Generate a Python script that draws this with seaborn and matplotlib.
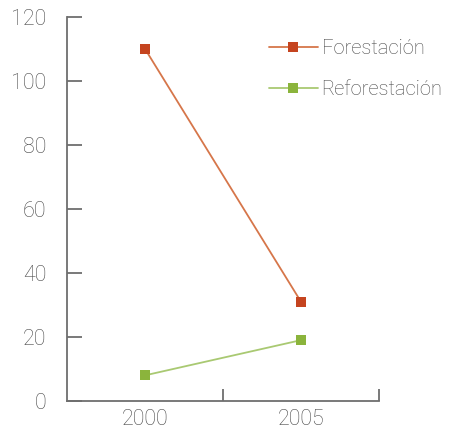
import matplotlib
matplotlib.use("Agg")
import matplotlib.pyplot as plt
import seaborn as sns
import pandas as pd

years = ["2000", "2005"]
forestacion = [110, 31]
reforestacion = [8, 19]
series_names = ["Forestación", "Reforestación"]

sns.set_style("white")
plt.rcParams["font.family"] = ["Roboto", "DejaVu Sans"]
plt.rcParams["font.weight"] = "light"

df = pd.DataFrame({
    "pos": [0, 1, 0, 1],
    "valor": forestacion + reforestacion,
    "serie": [series_names[0]] * 2 + [series_names[1]] * 2,
})

line_colors = {"Forestación": "#d6764a", "Reforestación": "#a9c972"}
marker_colors = {"Forestación": "#c5441f", "Reforestación": "#8bb43c"}

fig = plt.figure(figsize=(4.67, 4.33), dpi=100)
ax = fig.add_axes([0.1435, 0.074, 0.668, 0.887])

sns.lineplot(data=df, x="pos", y="valor", hue="serie", style="serie",
             palette=line_colors, markers={n: "s" for n in series_names},
             dashes=False, linewidth=1.3, markersize=6.5, markeredgewidth=0,
             ax=ax, legend=False)
# marker faces a bit darker than the lines
for line, name in zip(ax.get_lines(), series_names):
    line.set_markerfacecolor(marker_colors[name])
    line.set_label(name)

axis_gray = "#6e6e6e"
text_gray = "#4a4a4a"
ax.set_xlim(-0.5, 1.5)
ax.set_ylim(0, 120)
ax.set_yticks(range(0, 121, 20))
ax.set_xticks([0, 1])
ax.set_xticklabels(years)
ax.set_xticks([0.5, 1.5], minor=True)
ax.tick_params(left=True, bottom=True)
ax.tick_params(axis="x", which="major", length=0, pad=6, labelsize=15.5, labelcolor=text_gray)
ax.tick_params(axis="x", which="minor", bottom=True, direction="in", length=9, width=1.3, color=axis_gray)
ax.tick_params(axis="y", direction="in", length=11, width=1.3, color=axis_gray,
               pad=15, labelsize=15.5, labelcolor=text_gray)
for s in ["top", "right"]:
    ax.spines[s].set_visible(False)
for s in ["left", "bottom"]:
    ax.spines[s].set_color(axis_gray)
    ax.spines[s].set_linewidth(1.3)
ax.set_xlabel("")
ax.set_ylabel("")

leg = ax.legend(handles=ax.get_lines()[:2], loc="upper left", bbox_to_anchor=(0.59, 0.99),
                frameon=False, fontsize=14.5, handlelength=2.4, handletextpad=0.2,
                labelspacing=1.1)
for t in leg.get_texts():
    t.set_color(text_gray)

fig.savefig("out.png", dpi=100)
